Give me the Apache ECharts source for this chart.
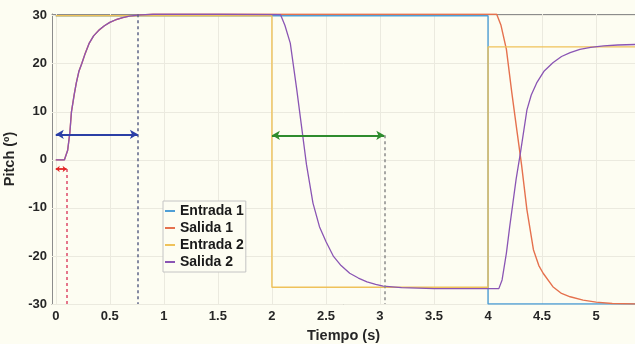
<!DOCTYPE html>
<html>
<head>
<meta charset="utf-8">
<script src="https://cdn.jsdelivr.net/npm/echarts@6/dist/echarts.min.js"></script>
<style>
  html, body { margin: 0; padding: 0; background: #fdfdf2; }
  #chart { width: 635px; height: 344px; }
</style>
</head>
<body>
<div id="chart"></div>
<script>
// series names and tick labels
var seriesNames = ['Entrada 1', 'Salida 1', 'Entrada 2', 'Salida 2'];
var xTicks = [0, 0.5, 1, 1.5, 2, 2.5, 3, 3.5, 4, 4.5, 5];
var yTicks = [-30, -20, -10, 0, 10, 20, 30];

// Entrada 1 (step reference)
var entrada1T = [0, 4, 4, 5.36];
var entrada1V = [30, 30, -30, -30];

// Entrada 2 (step reference)
var entrada2T = [0, 2, 2, 4, 4, 5.36];
var entrada2V = [30, 30, -26.5, -26.5, 23.5, 23.5];

// Salida 1
var salida1T = [0, 0.08, 0.09, 0.11, 0.13, 0.145, 0.17, 0.19, 0.215, 0.24, 0.27, 0.31, 0.35, 0.4, 0.45, 0.5, 0.56, 0.62, 0.68, 0.76, 0.9,
  2, 3, 4.08, 4.12, 4.17, 4.22, 4.27, 4.31, 4.36, 4.42, 4.47, 4.51, 4.6, 4.68, 4.76, 4.88, 5.0, 5.15, 5.36];
var salida1V = [0, 0, 0.2, 2, 5.6, 10, 13.5, 16, 18.5, 20, 22, 24.3, 25.8, 27, 27.9, 28.6, 29.2, 29.6, 29.9, 30.1, 30.3,
  30.3, 30.3, 30.3, 28, 23, 14, 5.6, -1, -10.4, -18.7, -22, -23.6, -26.4, -27.8, -28.5, -29.2, -29.6, -29.9, -30];

// Salida 2
var salida2T = [0, 0.08, 0.09, 0.11, 0.13, 0.145, 0.17, 0.19, 0.215, 0.24, 0.27, 0.31, 0.35, 0.4, 0.45, 0.5, 0.56, 0.62, 0.68, 0.76, 0.9,
  1.5, 2.08, 2.12, 2.17, 2.23, 2.29, 2.32, 2.35, 2.38, 2.44, 2.5, 2.57, 2.64, 2.72, 2.8, 2.88, 2.96, 3.03, 3.2, 3.5,
  4.1, 4.13, 4.17, 4.2, 4.23, 4.26, 4.3, 4.36, 4.4, 4.45, 4.52, 4.6, 4.68, 4.76, 4.85, 4.95, 5.07, 5.2, 5.36];
var salida2V = [0, 0, 0.2, 2, 5.6, 10, 13.5, 16, 18.5, 20, 22, 24.3, 25.8, 27, 27.9, 28.6, 29.2, 29.6, 29.9, 30.1, 30.3,
  30.3, 30.2, 28, 24.3, 14.6, 4.2, -1, -5, -9, -13.9, -17, -20.1, -22, -23.6, -24.6, -25.4, -25.9, -26.3, -26.6, -26.8,
  -26.8, -25, -19.4, -14, -9, -4, 1.5, 10.4, 13.5, 16, 18.5, 20.2, 21.5, 22.3, 23, 23.4, 23.7, 23.9, 24];

// annotations: [x1, x2, y] for double arrows, [x, yTop, yBottom] for dotted lines
var arrowBlue = [0, 0.76, 5.3];
var arrowRed = [0, 0.1, -1.9];
var arrowGreen = [2, 3.04, 5.1];
var dotBlue = [0.76, 30.3, -30];
var dotRed = [0.1, -1.9, -30];
var dotGray = [3.04, 5.1, -30];

var xMin = -0.035, xMax = 5.36, yMin = -30, yMax = 30.35;

function pairs(t, v) {
  var out = [];
  for (var i = 0; i < t.length; i++) out.push([t[i], v[i]]);
  return out;
}

function arrowLine(a, color, size) {
  return [
    { coord: [a[0], a[2]], symbolSize: size, lineStyle: { color: color, width: 1.8, type: 'solid' } },
    { coord: [a[1], a[2]], symbolSize: size }
  ];
}

function dotLine(d, color) {
  return [
    { coord: [d[0], d[1]], symbol: 'none', lineStyle: { color: color, width: 1.5, type: [3, 3] } },
    { coord: [d[0], d[2]], symbol: 'none' }
  ];
}

// light grid lines at the tick values
var gridLines = [];
xTicks.forEach(function (x) {
  gridLines.push([{ coord: [x, yMin] }, { coord: [x, yMax] }]);
});
yTicks.forEach(function (y) {
  gridLines.push([{ coord: [xMin, y] }, { coord: [xMax, y] }]);
});

var chart = echarts.init(document.getElementById('chart'));

var labelFont = {
  fontFamily: 'Liberation Sans, Arial, sans-serif',
  fontWeight: 'bold',
  fontSize: 13,
  color: '#262626'
};
var nameFont = {
  fontFamily: 'Liberation Sans, Arial, sans-serif',
  fontWeight: 'bold',
  fontSize: 14.5,
  color: '#262626'
};

var option = {
  backgroundColor: '#fdfdf2',
  animation: false,
  grid: { left: 52, right: 0, top: 14, bottom: 40, outerBoundsMode: 'none' },
  legend: {
    data: seriesNames,
    orient: 'vertical',
    left: 163,
    top: 201,
    icon: 'rect',
    itemWidth: 10,
    itemHeight: 2,
    itemGap: 3,
    padding: [3, 2, 3, 2],
    backgroundColor: '#fdfdf2',
    borderColor: '#c4c4c4',
    borderWidth: 1,
    textStyle: {
      fontFamily: 'Liberation Sans, Arial, sans-serif',
      fontWeight: 'bold',
      fontSize: 14,
      color: '#1a1a1a',
      lineHeight: 14
    }
  },
  xAxis: [
    {
      type: 'value',
      min: xMin,
      max: xMax,
      name: 'Tiempo (s)',
      nameLocation: 'middle',
      nameGap: 24,
      nameTextStyle: nameFont,
      axisLine: { onZero: false, lineStyle: { color: '#8c8c8c', width: 1 } },
      axisTick: { inside: true, length: 4, customValues: xTicks, lineStyle: { color: '#8c8c8c' } },
      axisLabel: Object.assign({ customValues: xTicks, margin: 6 }, labelFont),
      splitLine: { show: false }
    },
    {
      type: 'value',
      position: 'top',
      min: xMin,
      max: xMax,
      axisLine: { onZero: false, lineStyle: { color: '#8c8c8c', width: 1 } },
      axisTick: { inside: true, length: 4, customValues: xTicks, lineStyle: { color: '#8c8c8c' } },
      axisLabel: { show: false },
      splitLine: { show: false }
    }
  ],
  yAxis: {
    type: 'value',
    min: yMin,
    max: yMax,
    name: 'Pitch (º)',
    nameLocation: 'middle',
    nameGap: 31,
    nameTextStyle: nameFont,
    axisLine: { show: true, onZero: false, lineStyle: { color: '#8c8c8c', width: 1 } },
    axisTick: { show: true, inside: true, length: 4, customValues: yTicks, lineStyle: { color: '#8c8c8c' } },
    axisLabel: Object.assign({ customValues: yTicks, margin: 5 }, labelFont),
    splitLine: { show: false }
  },
  series: [
    {
      name: 'rejilla',
      type: 'line',
      data: [],
      silent: true,
      z: 1,
      markLine: {
        silent: true,
        animation: false,
        z: 1,
        symbol: 'none',
        label: { show: false },
        lineStyle: { color: '#ebeadf', width: 1, type: 'solid' },
        data: gridLines
      }
    },
    {
      name: 'Entrada 1',
      type: 'line',
      data: pairs(entrada1T, entrada1V),
      showSymbol: false,
      z: 3,
      color: '#4f9fd6',
      lineStyle: { width: 1.4 }
    },
    {
      name: 'Salida 1',
      type: 'line',
      data: pairs(salida1T, salida1V),
      showSymbol: false,
      z: 3,
      color: '#e5714e',
      lineStyle: { width: 1.4 }
    },
    {
      name: 'Entrada 2',
      type: 'line',
      data: pairs(entrada2T, entrada2V),
      showSymbol: false,
      z: 3,
      color: '#efc25a',
      lineStyle: { width: 1.4 }
    },
    {
      name: 'Salida 2',
      type: 'line',
      data: pairs(salida2T, salida2V),
      showSymbol: false,
      z: 3,
      color: '#8a55b4',
      lineStyle: { width: 1.3 }
    },
    {
      name: 'anotaciones',
      type: 'line',
      data: [],
      silent: true,
      markLine: {
        silent: true,
        animation: false,
        z: 5,
        symbol: ['arrow', 'arrow'],
        label: { show: false },
        data: [
          dotLine(dotBlue, '#5d6488'),
          dotLine(dotRed, '#dd4a6a'),
          dotLine(dotGray, '#8a8a8a'),
          arrowLine(arrowBlue, '#2b3fa6', [7, 8]),
          arrowLine(arrowRed, '#e32626', [5, 4]),
          arrowLine(arrowGreen, '#2e8c2e', [7, 8])
        ]
      }
    }
  ]
};

chart.setOption(option);
</script>
</body>
</html>
